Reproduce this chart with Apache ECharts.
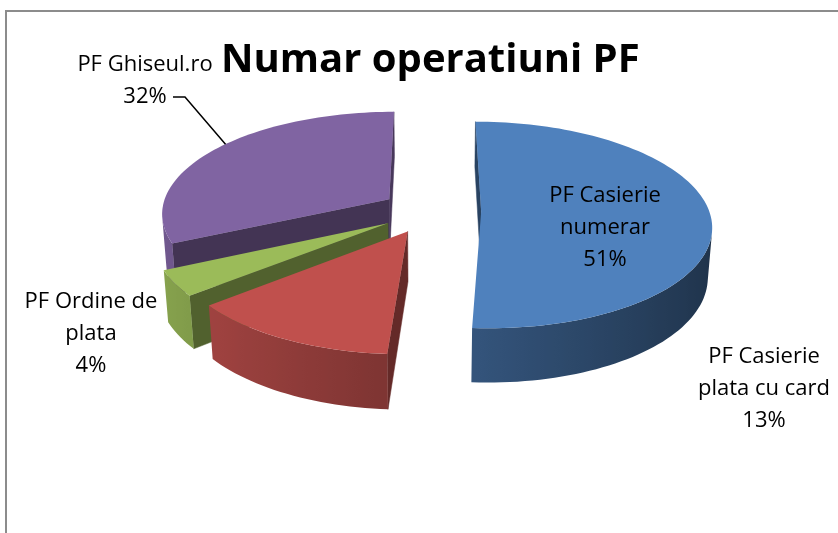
<!DOCTYPE html>
<html>
<head>
<meta charset="utf-8">
<script src="https://cdn.jsdelivr.net/npm/echarts@6/dist/echarts.min.js"></script>
<style>
html, body { margin: 0; padding: 0; background: #fff; }
#main { width: 838px; height: 533px; }
</style>
</head>
<body>
<div id="main"></div>
<script>
// slices, clockwise from 12 o'clock like excel does it
var categories = ['PF Casierie\nnumerar', 'PF Casierie\nplata cu card', 'PF Ordine de\nplata', 'PF Ghiseul.ro'];
var values = [51, 13, 4, 32];
var colors = ['#4F81BD', '#C0504D', '#9BBB59', '#8064A2'];

// 3d view of the pie (pixels / radius units)
var view = { cx: 431, cy: 211, scale: 228, dist: 7, tilt: 0.461, thick: 0.245, explode: 0.22 };
// where excel put the data labels
var labelAt = [[605, 228], [764, 389], [91, 334], [145, 81]];
// leader line for the Ghiseul.ro label, ends on the rim at this fraction of the slice
var leader = { slice: 3, from: [[173, 97], [185, 97]], frac: 0.54 };

var total = 0;
for (var k = 0; k < values.length; k++) total += values[k];

var camZ = -view.dist * Math.cos(view.tilt);

function project(X, Y, Z) {
  var zc = view.dist + Z * Math.cos(view.tilt) - Y * Math.sin(view.tilt);
  var yc = Y * Math.cos(view.tilt) + Z * Math.sin(view.tilt);
  var f = view.dist / zc;
  return [view.cx + view.scale * X * f, view.cy - view.scale * yc * f];
}

function shade(hex, f) {
  var c = echarts.color.parse(hex);
  var r = Math.max(0, Math.min(255, Math.round(c[0] * f)));
  var g = Math.max(0, Math.min(255, Math.round(c[1] * f)));
  var b = Math.max(0, Math.min(255, Math.round(c[2] * f)));
  return 'rgb(' + r + ',' + g + ',' + b + ')';
}

// face visible if its outward normal points to the camera
function facing(nx, nz, px, pz) {
  return nx * (0 - px) + nz * (camZ - pz) > 0;
}

function sliceAngles(i) {
  var start = 0;
  for (var j = 0; j < i; j++) start += values[j];
  var a0 = start / total * Math.PI * 2;
  var a1 = (start + values[i]) / total * Math.PI * 2;
  return [a0, a1];
}

// draw order: slices further back first
var order = values.map(function (v, i) {
  var a = sliceAngles(i);
  return { i: i, z: Math.cos((a[0] + a[1]) / 2) };
}).sort(function (a, b) { return b.z - a.z; });
var rank = [];
order.forEach(function (o, r) { rank[o.i] = r; });

function wallPiece(run, rimTop, rimBot, angs, base, z2) {
  var top = [], bot = [];
  for (var n = 0; n < run.length; n++) {
    var q = run[n];
    if (n === 0) { top.push(rimTop[q]); bot.push(rimBot[q]); }
    top.push(rimTop[q + 1]);
    bot.push(rimBot[q + 1]);
  }
  var pts = top.concat(bot.reverse());
  var xmin = Infinity, xmax = -Infinity;
  pts.forEach(function (p) { xmin = Math.min(xmin, p[0]); xmax = Math.max(xmax, p[0]); });
  var stops = [];
  run.forEach(function (q) {
    var tm = (angs[q] + angs[q + 1]) / 2;
    var xm = (rimTop[q][0] + rimTop[q + 1][0]) / 2;
    stops.push({ offset: (xm - xmin) / Math.max(1, xmax - xmin), color: shade(base, 0.64 - 0.25 * Math.sin(tm)) });
  });
  stops.sort(function (a, b) { return a.offset - b.offset; });
  var fill = new echarts.graphic.LinearGradient(xmin, 0, xmax, 0, stops, true);
  return {
    type: 'polygon', z2: z2,
    shape: { points: pts },
    style: { fill: fill }
  };
}

function renderItem(params, api) {
  var i = params.dataIndex;
  var a = sliceAngles(i);
  var a0 = a[0], a1 = a[1], mid = (a0 + a1) / 2;
  var ox = view.explode * Math.sin(mid);
  var oz = view.explode * Math.cos(mid);
  var t = view.thick;
  var base = colors[i];
  var zb = rank[i] * 1000;
  var children = [];

  var steps = Math.max(6, Math.ceil((a1 - a0) / 0.03));
  var rimTop = [], rimBot = [], angs = [];
  for (var s = 0; s <= steps; s++) {
    var th = a0 + (a1 - a0) * s / steps;
    angs.push(th);
    rimTop.push(project(ox + Math.sin(th), 0, oz + Math.cos(th)));
    rimBot.push(project(ox + Math.sin(th), -t, oz + Math.cos(th)));
  }
  var apexTop = project(ox, 0, oz);
  var apexBot = project(ox, -t, oz);

  // radial cut faces
  if (facing(-Math.cos(a0), Math.sin(a0), ox + Math.sin(a0) / 2, oz + Math.cos(a0) / 2)) {
    children.push({
      type: 'polygon', z2: zb + 1,
      shape: { points: [apexTop, rimTop[0], rimBot[0], apexBot] },
      style: { fill: shade(base, 0.52), stroke: shade(base, 0.52), lineWidth: 0.5 }
    });
  }
  if (facing(Math.cos(a1), -Math.sin(a1), ox + Math.sin(a1) / 2, oz + Math.cos(a1) / 2)) {
    children.push({
      type: 'polygon', z2: zb + 1,
      shape: { points: [apexTop, rimTop[steps], rimBot[steps], apexBot] },
      style: { fill: shade(base, 0.56), stroke: shade(base, 0.56), lineWidth: 0.5 }
    });
  }

  // outer wall, lit from the left, one shape per visible run
  var run = [];
  for (var q = 0; q < steps; q++) {
    var tm = (angs[q] + angs[q + 1]) / 2;
    if (facing(Math.sin(tm), Math.cos(tm), ox + Math.sin(tm), oz + Math.cos(tm))) {
      run.push(q);
    } else if (run.length) {
      children.push(wallPiece(run, rimTop, rimBot, angs, base, zb + 2));
      run = [];
    }
  }
  if (run.length) children.push(wallPiece(run, rimTop, rimBot, angs, base, zb + 2));

  // top face
  children.push({
    type: 'polygon', z2: zb + 3,
    shape: { points: [apexTop].concat(rimTop) },
    style: { fill: base }
  });

  // data label
  var pct = Math.round(api.value(0) / total * 100);
  children.push({
    type: 'text', z2: 9000,
    style: {
      text: categories[i] + '\n' + pct + '%',
      x: labelAt[i][0], y: labelAt[i][1],
      align: 'center', verticalAlign: 'middle',
      fontFamily: 'Open Sans', fontSize: 22, lineHeight: 32, fill: '#000'
    }
  });

  if (leader.slice === i) {
    var lt = a0 + (a1 - a0) * leader.frac;
    var end = project(ox + Math.sin(lt), 0, oz + Math.cos(lt));
    children.push({
      type: 'polyline', z2: 9001,
      shape: { points: leader.from.concat([end]) },
      style: { stroke: '#000', lineWidth: 1.5, fill: null }
    });
  }

  return { type: 'group', children: children };
}

var myChart = echarts.init(document.getElementById('main'));
var option = {
  backgroundColor: '#fff',
  animation: false,
  title: {
    text: 'Numar operatiuni PF',
    left: 221,
    top: 41,
    padding: 0,
    textStyle: { fontFamily: 'Open Sans', fontWeight: 'bold', fontSize: 40, color: '#000' }
  },
  graphic: [{
    type: 'polyline',
    shape: { points: [[6, 533], [6, 11], [838, 11]] },
    style: { stroke: '#8c8c8c', lineWidth: 2, fill: null }
  }],
  series: [{
    type: 'custom',
    coordinateSystem: 'none',
    renderItem: renderItem,
    silent: true,
    data: values.map(function (v, i) { return { name: categories[i], value: v }; })
  }]
};
myChart.setOption(option);
</script>
</body>
</html>
